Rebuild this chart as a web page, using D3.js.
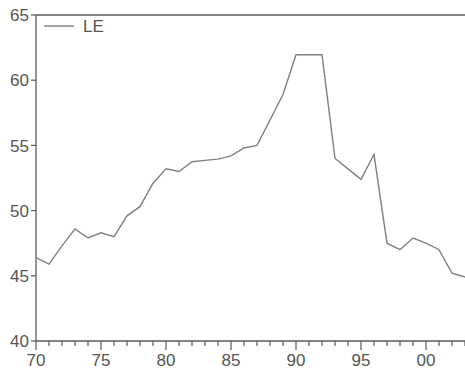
<!DOCTYPE html>
<html>
<head>
<meta charset="utf-8">
<script src="https://cdn.jsdelivr.net/npm/d3@7"></script>
<style>
  body { margin: 0; background: #fff; }
  text { font-family: "Liberation Sans", Arial, sans-serif; }
</style>
</head>
<body>
<div id="chart"></div>
<script>
var years = d3.range(1970, 2004);
var le = [46.4, 45.9, 47.3, 48.6, 47.9, 48.3, 48.0, 49.6, 50.3, 52.1,
          53.2, 53.0, 53.75, 53.85, 53.95, 54.2, 54.8, 55.0, 56.95, 58.9,
          61.95, 61.95, 61.95, 54.0, 53.2, 52.4, 54.3, 47.5, 47.0, 47.9,
          47.5, 47.0, 45.2, 44.9];
var yTicks = [40, 45, 50, 55, 60, 65];
var xMajor = [1970, 1975, 1980, 1985, 1990, 1995, 2000];
var seriesName = "LE";

var width = 465, height = 374;
var mLeft = 36, mTop = 15, mRight = 465, mBottom = 341;

var svg = d3.select("#chart").append("svg")
    .attr("width", width)
    .attr("height", height);

var x = d3.scaleLinear().domain([1970, 2003]).range([mLeft, mRight]);
var y = d3.scaleLinear().domain([40, 65]).range([mBottom, mTop]);

var axisColor = "#5a5a5a";
var textColor = "#555";

// frame top
svg.append("line").attr("x1", mLeft).attr("x2", mRight + 2).attr("y1", mTop).attr("y2", mTop)
    .style("stroke", axisColor).style("stroke-width", 1.3);

// x axis: minor ticks every year, major every 5
var xAxis = svg.append("g").attr("transform", "translate(0," + mBottom + ")");
xAxis.append("line").attr("x1", mLeft).attr("x2", mRight + 2)
    .style("stroke", axisColor).style("stroke-width", 1.3);
xAxis.selectAll(".minor").data(years).enter().append("line")
    .attr("x1", function(d) { return x(d); }).attr("x2", function(d) { return x(d); })
    .attr("y1", 0).attr("y2", function(d) { return xMajor.indexOf(d) >= 0 ? 9 : 5; })
    .style("stroke", axisColor).style("stroke-width", 1.2);
xAxis.selectAll(".lbl").data(xMajor).enter().append("text")
    .attr("x", function(d) { return x(d); })
    .attr("y", 25)
    .attr("text-anchor", "middle")
    .style("font-size", "17px")
    .style("fill", textColor)
    .text(function(d) { return d3.format("02d")(d % 100); });

// y axis
var yAxis = svg.append("g").attr("transform", "translate(" + mLeft + ",0)");
yAxis.append("line").attr("y1", mTop).attr("y2", mBottom)
    .style("stroke", axisColor).style("stroke-width", 1.3);
yAxis.selectAll(".tick").data(yTicks).enter().append("line")
    .attr("x1", -5).attr("x2", 0)
    .attr("y1", function(d) { return y(d); }).attr("y2", function(d) { return y(d); })
    .style("stroke", axisColor).style("stroke-width", 1.2);
yAxis.selectAll(".lbl").data(yTicks).enter().append("text")
    .attr("x", -7)
    .attr("y", function(d) { return y(d); })
    .attr("dy", "0.36em")
    .attr("text-anchor", "end")
    .style("font-size", "17px")
    .style("fill", textColor)
    .text(function(d) { return d; });

// series
var line = d3.line()
    .x(function(d, i) { return x(years[i]); })
    .y(function(d) { return y(d); });

svg.append("path")
    .datum(le)
    .attr("d", line)
    .attr("fill", "none")
    .style("stroke", "#808080")
    .style("stroke-width", 1.4);

// legend
svg.append("line").attr("x1", 44).attr("x2", 74).attr("y1", 26).attr("y2", 26)
    .style("stroke", "#808080").style("stroke-width", 1.4);
svg.append("text").attr("x", 83).attr("y", 26).attr("dy", "0.36em")
    .style("font-size", "17px").style("fill", textColor)
    .text(seriesName);
</script>
</body>
</html>
